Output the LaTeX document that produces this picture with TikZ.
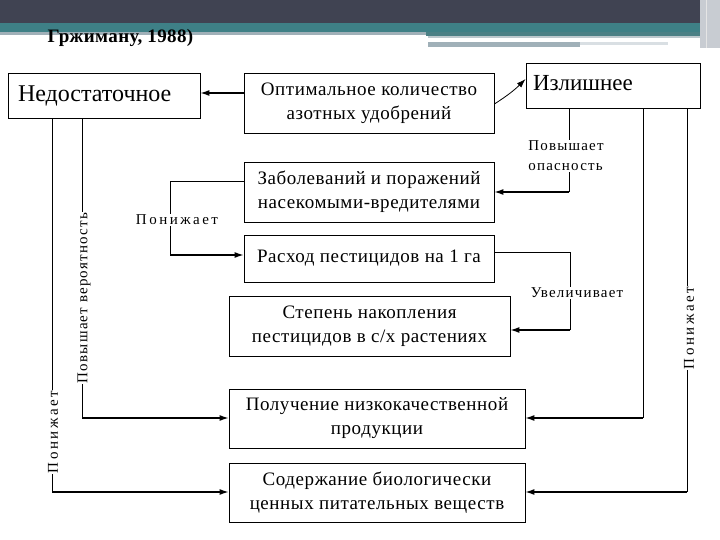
\documentclass[tikz,border=0pt]{standalone}
\usepackage{fontspec}
\setmainfont{Liberation Serif}
\usetikzlibrary{arrows.meta}
\definecolor{hdark}{RGB}{64,67,82}
\definecolor{hteal}{RGB}{62,128,134}
\definecolor{hgray}{RGB}{160,176,184}
\definecolor{hlight}{RGB}{200,204,210}
\tikzset{
  box/.style={draw, line width=0.8pt, inner sep=0pt, align=center, font=\fontsize{19}{24}\selectfont\addfontfeature{LetterSpace=3}},
  conn/.style={line width=0.8pt},
  arr/.style={line width=1.3pt, -{Latex[length=9pt,width=6pt]}},
  lbl/.style={fill=white, inner sep=1pt, font=\fontsize{15}{20}\selectfont\addfontfeature{LetterSpace=8}},
  lblw/.style={fill=white, inner sep=1pt, font=\fontsize{15}{20}\selectfont},
}
\begin{document}
\begin{tikzpicture}[x=1pt,y=-1pt]
\useasboundingbox (0,0) rectangle (720,540);
% header decoration
\fill[hdark] (0,0) rectangle (720,23);
\fill[hteal] (0,23) rectangle (700,32);
\fill[hgray] (0,32) rectangle (426,35);
\fill[hteal!80!gray] (426,32) rectangle (700,36);
\fill[hgray!70] (428,36) rectangle (700,38);
\fill[hgray] (428,42) rectangle (580,47);
\fill[hgray!40] (580,42) rectangle (668,45);
\fill[hlight] (700,0) rectangle (720,48);
\draw[white!80!gray, line width=1pt] (706,0) -- (706,48);
\node[anchor=west, font=\bfseries\fontsize{19}{22}\selectfont\addfontfeature{LetterSpace=2}] (title) at (44,38) {Гржиману, 1988)};

% boxes
\node[box, minimum width=192pt, minimum height=45pt, text width=172pt, align=left, font=\fontsize{24}{28}\selectfont] (nedo) at (104,95.5) {Недостаточное};
\node[box, minimum width=250pt, minimum height=60pt] (opt) at (369,103) {Оптимальное количество\\азотных удобрений};
\node[box, minimum width=174pt, minimum height=45pt, text width=160pt, align=left, font=\fontsize{23}{27}\selectfont] (izl) at (613,85.5) {\raisebox{5pt}{Излишнее}};
\node[box, minimum width=250pt, minimum height=60pt] (zab) at (369,192) {Заболеваний и поражений\\насекомыми-вредителями};
\node[box, minimum width=250pt, minimum height=47pt] (rash) at (369,258.5) {Расход пестицидов на 1 га};
\node[box, minimum width=281pt, minimum height=60pt] (step) at (369.5,326) {Степень накопления\\пестицидов в с/х растениях};
\node[box, minimum width=296pt, minimum height=59pt] (pol) at (377,418.5) {Получение низкокачественной\\продукции};
\node[box, minimum width=296pt, minimum height=59pt] (sod) at (377,492.5) {Содержание биологически\\ценных питательных веществ};

% connectors
\draw[arr] (opt.west |- 0,93) -- (nedo.east |- 0,93);
\draw[arr, line width=0.8pt] (opt.east |- 0,104) to[bend right=6] (izl.west |- 0,79);

\draw[conn] (izl.south -| 569,0) -- (569,192);
\draw[arr] (569,192) -- (zab.east |- 0,192);
\node[lbl, align=left] (l1) at (566,156) {Повышает\\опасность};

\draw[conn] (zab.west |- 0,181) -- (170,181) -- (170,255);
\draw[arr] (170,255) -- (rash.west |- 0,255);
\node[lblw] (l2) at (177,220) {П\,о\,н\,и\,ж\,а\,е\,т};

\draw[conn] (rash.east |- 0,252) -- (570,252) -- (570,330);
\draw[arr] (570,330) -- (step.east |- 0,330);
\node[lbl] (l3) at (577,293) {Увеличивает};

\draw[conn] (izl.south -| 643,0) -- (643,418);
\draw[arr] (643,418) -- (pol.east |- 0,418);

\draw[conn] (izl.south -| 687,0) -- (687,492);
\draw[arr] (687,492) -- (sod.east |- 0,492);
\node[lblw, rotate=90] (l4) at (689,328) {П\,о\,н\,и\,ж\,а\,е\,т};

\draw[conn] (nedo.south -| 82,0) -- (82,418);
\draw[arr] (82,418) -- (pol.west |- 0,418);
\node[lbl, rotate=90] (l5) at (84,298) {Повышает вероятность};

\draw[conn] (nedo.south -| 52,0) -- (52,492);
\draw[arr] (52,492) -- (sod.west |- 0,492);
\node[lblw, rotate=90] (l6) at (53,432) {П\,о\,н\,и\,ж\,а\,е\,т};
\end{tikzpicture}
\end{document}
